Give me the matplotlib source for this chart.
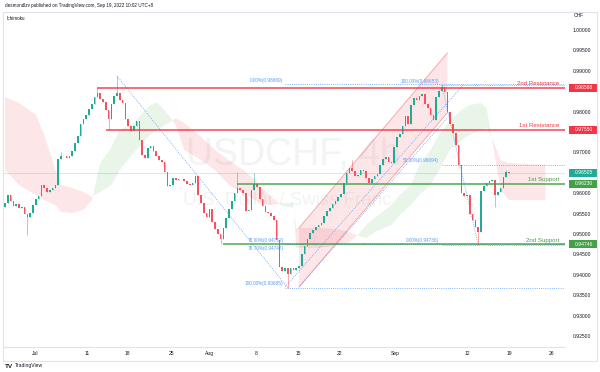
import matplotlib.pyplot as plt
import matplotlib as mpl
import matplotlib.transforms as mtrans
from matplotlib.patches import Rectangle, Polygon
import numpy as np

mpl.rcParams['font.family'] = ['Liberation Sans', 'DejaVu Sans']

# ---- data (USDCHF 4h) ----
first_open = 0.9566
closes = [
    0.9576, 0.9596, 0.9581, 0.9569, 0.9574, 0.9564, 0.9566, 0.9549, 0.9542, 0.9551,
    0.9571, 0.9586, 0.9593, 0.9620, 0.9613, 0.9603, 0.9608, 0.9613, 0.9620, 0.9684,
    0.9691, 0.9691, 0.9686, 0.9691, 0.9703, 0.9723, 0.9740, 0.9770, 0.9782, 0.9792,
    0.9806, 0.9819, 0.9836, 0.9846, 0.9831, 0.9823, 0.9804, 0.9782, 0.9819, 0.9838,
    0.9846, 0.9828, 0.9821, 0.9782, 0.9765, 0.9752, 0.9765, 0.9777, 0.9730, 0.9694,
    0.9686, 0.9711, 0.9716, 0.9703, 0.9691, 0.9681, 0.9676, 0.9652, 0.9618, 0.9620,
    0.9637, 0.9632, 0.9635, 0.9635, 0.9630, 0.9622, 0.9620, 0.9625, 0.9642, 0.9596,
    0.9576, 0.9551, 0.9542, 0.9561, 0.9529, 0.9512, 0.9500, 0.9488, 0.9515, 0.9539,
    0.9561, 0.9581, 0.9600, 0.9613, 0.9608, 0.9600, 0.9556, 0.9559, 0.9608, 0.9622,
    0.9615, 0.9586, 0.9569, 0.9554, 0.9551, 0.9544, 0.9534, 0.9485, 0.9419, 0.9409,
    0.9417, 0.9402, 0.9417, 0.9412, 0.9417, 0.9422, 0.9451, 0.9471, 0.9488, 0.9502,
    0.9510, 0.9517, 0.9522, 0.9527, 0.9544, 0.9556, 0.9564, 0.9574, 0.9581, 0.9591,
    0.9598, 0.9625, 0.9650, 0.9662, 0.9654, 0.9642, 0.9645, 0.9657, 0.9654, 0.9637,
    0.9625, 0.9635, 0.9642, 0.9647, 0.9669, 0.9684, 0.9689, 0.9676, 0.9674, 0.9713,
    0.9738, 0.9745, 0.9765, 0.9789, 0.9770, 0.9816, 0.9833, 0.9828, 0.9838, 0.9843,
    0.9819, 0.9809, 0.9792, 0.9779, 0.9836, 0.9850, 0.9860, 0.9848, 0.9799, 0.9770,
    0.9747, 0.9718, 0.9669, 0.9600, 0.9593, 0.9596, 0.9549, 0.9534, 0.9517, 0.9505,
    0.9605, 0.9618, 0.9625, 0.9630, 0.9632, 0.9596, 0.9603, 0.9613, 0.9640, 0.9652,
    0.96505]
highs = {20: 0.9700, 33: 0.98588, 40: 0.9887, 83: 0.9652, 89: 0.9650,
         124: 0.9681, 156: 0.98653, 179: 0.9658}
lows = {8: 0.9497, 37: 0.9755, 77: 0.94746, 101: 0.93685, 169: 0.94736, 175: 0.9565}

tick_bars = [10.7, 29.3, 43.6, 59.3, 73.2, 89.6, 104.6, 119.6, 139.3, 165.0, 180.0, 195.0]
tick_labels = ['Jul', '11', '18', '25', 'Aug', '8', '15', '22', 'Sep', '12', '19', '26']
price_ticks = [1.0, 0.995, 0.99, 0.98, 0.97, 0.96, 0.955, 0.95, 0.945, 0.94, 0.935, 0.93, 0.925]

# ichimoku cloud (leading span A / B)
cloud_bars = [0, 5, 11, 14, 18, 20, 24, 28, 31, 34, 38, 41, 46, 51, 54, 56, 59, 61, 64, 70,
              75, 80, 86, 91, 95, 99, 103, 104, 112, 118, 123, 126, 129, 132, 138, 141, 145,
              148, 152, 155, 159, 163, 166, 170, 172, 174, 177, 180, 193]
span_a = [0.9657, 0.9620, 0.9596, 0.9583, 0.9571, 0.9554, 0.9551, 0.9559, 0.9583, 0.9674,
          0.9713, 0.9755, 0.9772, 0.9811, 0.9823, 0.9811, 0.9787, 0.9767, 0.9706, 0.9681,
          0.9657, 0.9620, 0.9596, 0.9576, 0.9571, 0.9576, 0.9576, 0.9466, 0.9466, 0.9471,
          0.9480, 0.9498, 0.9522, 0.9539, 0.9571, 0.9596, 0.9620, 0.9669, 0.9706, 0.9743,
          0.9779, 0.9804, 0.9816, 0.9821, 0.9809, 0.9730, 0.9608, 0.9583, 0.9583]
span_b = [0.9836, 0.9821, 0.9792, 0.9743, 0.9657, 0.9620, 0.9613, 0.9603, 0.9591, 0.9603,
          0.9620, 0.9657, 0.9699, 0.9738, 0.9755, 0.9762, 0.9775, 0.9784, 0.9772, 0.9738,
          0.9706, 0.9681, 0.9652, 0.9620, 0.9591, 0.9569, 0.9564, 0.9515, 0.9515, 0.9512,
          0.9505, 0.9495, 0.9490, 0.9505, 0.9522, 0.9547, 0.9571, 0.9596, 0.9620, 0.9657,
          0.9706, 0.9730, 0.9743, 0.9755, 0.9760, 0.9735, 0.9681, 0.9674, 0.9669]

levels = [0.98588, 0.97550, 0.96230, 0.94746]
level_names = ['2nd Resistance', '1st Resistance', '1st Support', '2nd Support']
level_start = [33, 36, 83, 78]
last_price = 0.96505

fib1_pct = ['0.00%', '78.60%', '78.70%', '100.00%']
fib1_prices = [0.98669, 0.94752, 0.94747, 0.93685]
fib1_bar = 100
fib2_pct = ['100.00%', '50.00%', '0.00%']
fib2_prices = [0.98653, 0.96694, 0.94736]
fib2_bar = 156

channel_bars = [105, 158]
channel_upper = [0.9515, 0.9944]
channel_lower = [0.9370, 0.9797]
inner_a_bars, inner_a = [100, 164], [0.9370, 0.9868]
inner_b_bars, inner_b = [105, 158], [0.9370, 0.9785]

# ---- style ----
UP, DOWN = '#22ab94', '#f7525f'
RED, GREEN, TEAL, BLUE = '#f23645', '#43a047', '#22ab94', '#5b9cf6'
GRID = '#e0e3eb'
TXT = '#131722'

fig = plt.figure(figsize=(6, 3.72), dpi=100)
fig.patch.set_facecolor('white')
ax = fig.add_axes([4 / 600, 25 / 372, 561 / 600, 335 / 372])
ax.set_xlim(-0.36, 200)
ax.set_ylim(0.92230, 1.00441)
px = 1 / 4080  # one pixel in price units

# cloud
a = np.array(span_a)
b = np.array(span_b)
ax.fill_between(cloud_bars, a, b, where=a >= b, interpolate=True, color='#4caf50', alpha=0.12, lw=0, zorder=1)
ax.fill_between(cloud_bars, a, b, where=a < b, interpolate=True, color=RED, alpha=0.12, lw=0, zorder=1)

# watermark
ax.text(0.515, 0.573, 'USDCHF, 4h', transform=ax.transAxes, ha='center', va='center',
        fontsize=27, color='#787b86', alpha=0.09, zorder=0)
ax.text(0.505, 0.436, 'U.S. Dollar / Swiss Franc', transform=ax.transAxes, ha='center', va='center',
        fontsize=13.5, color='#787b86', alpha=0.09, zorder=0)

# rising channel
poly = Polygon([(channel_bars[0], channel_upper[0]), (channel_bars[1], channel_upper[1]),
                (channel_bars[1], channel_lower[1]), (channel_bars[0], channel_lower[0])],
               closed=True, fc=RED, alpha=0.12, lw=0, zorder=1.5)
ax.add_patch(poly)
ax.plot(channel_bars, channel_upper, color=RED, alpha=0.45, lw=0.6, zorder=1.6)
ax.plot(channel_bars, channel_lower, color=RED, alpha=0.45, lw=0.6, zorder=1.6)
dots = (0, (1, 1.6))
ax.plot(inner_a_bars, inner_a, color=BLUE, ls=dots, lw=0.6, zorder=1.7)
ax.plot(inner_b_bars, inner_b, color=BLUE, ls=dots, lw=0.6, zorder=1.7)

# current price line
ax.axhline(last_price, color=TEAL, alpha=0.2, lw=0.8, zorder=1.2)

# candles
n = len(closes)
xs = np.arange(n)
opens = [first_open] + closes[:-1]
hi = [max(opens[i], closes[i], highs.get(i, 0)) for i in range(n)]
lo = [min(opens[i], closes[i], lows.get(i, 2)) for i in range(n)]
cols = [UP if closes[i] >= opens[i] else DOWN for i in range(n)]
ax.vlines(xs, lo, hi, colors=cols, lw=0.5, alpha=0.7, zorder=3)
ax.bar(xs, np.array(closes) - np.array(opens), bottom=opens, width=0.62, color=cols, lw=0, zorder=3.1)

# fib diagonals
ax.plot([40, 101], [highs[40], lows[101]], color=BLUE, ls=dots, lw=0.6, zorder=2)
ax.plot([156, 169], [highs[156], lows[169]], color=BLUE, ls=dots, lw=0.6, zorder=2)

# fib levels
for i, (pct, p) in enumerate(zip(fib1_pct, fib1_prices)):
    ax.hlines(p, fib1_bar, 200, color=BLUE, ls=dots, lw=0.6, zorder=2)
    below = pct == '78.70%'
    ax.annotate(f'{pct}({p:.5f})', (fib1_bar, p), xytext=(-1, -1 if below else 1),
                textcoords='offset points', ha='right', va='top' if below else 'bottom',
                fontsize=3.4, color=BLUE, zorder=6)
for pct, p in zip(fib2_pct, fib2_prices):
    ax.hlines(p, fib2_bar, 200, color=BLUE, ls=dots, lw=0.6, zorder=2)
    ax.annotate(f'{pct}({p:.5f})', (fib2_bar, p), xytext=(-2, 1),
                textcoords='offset points', ha='right', va='bottom',
                fontsize=3.4, color=BLUE, zorder=6)

# support / resistance
for p, name, s in zip(levels, level_names, level_start):
    c = RED if 'Resistance' in name else GREEN
    ax.hlines(p, s, 200, color=c, lw=1.2, alpha=0.85, zorder=4)
    ax.annotate(name, (198, p), xytext=(0, 1.2), textcoords='offset points',
                ha='right', va='bottom', fontsize=4.4, color=c, zorder=6)

# axes look
for sp in ['top', 'left', 'right']:
    ax.spines[sp].set_visible(False)
ax.spines['bottom'].set_color(GRID)
ax.spines['bottom'].set_linewidth(0.8)
ax.yaxis.tick_right()
ax.set_yticks(price_ticks)
ax.set_yticklabels([f'{t:.5f}' for t in price_ticks])
ax.tick_params(axis='y', length=0, pad=5.8, labelsize=3.6, labelcolor=TXT)
ax.set_xticks(tick_bars)
ax.set_xticklabels(tick_labels)
ax.tick_params(axis='x', length=0, pad=3.2, labelsize=3.6, labelcolor=TXT)

# price boxes on the scale
trans = mtrans.blended_transform_factory(ax.transAxes, ax.transData)
box_prices = [levels[0], levels[1], last_price, levels[2], levels[3]]
box_colors = [RED, RED, TEAL, GREEN, GREEN]
for p, c in zip(box_prices, box_colors):
    ax.add_patch(Rectangle((1 + 4 / 561, p - 4 * px), 28 / 561, 8 * px, transform=trans,
                           fc=c, ec='none', clip_on=False, zorder=7))
    ax.text(1 + 9.5 / 561, p, f'{p:.5f}', transform=trans, ha='left', va='center',
            fontsize=3.6, color='white', zorder=8, clip_on=False)
ax.text(1 + 9 / 561, 1.00441 - 4 * px, 'CHF', transform=trans, ha='left', va='center',
        fontsize=3.6, color=TXT)

# frame, header, footer
fig.patches.append(Rectangle((3 / 600, 1 - 361 / 372), 594 / 600, 349 / 372, transform=fig.transFigure,
                             fill=False, ec=GRID, lw=0.8))
fig.text(5 / 600, 1 - 5 / 372, 'desmondlzv published on TradingView.com, Sep 19, 2022 10:02 UTC+8',
         fontsize=3.3, color=TXT, va='center')
fig.text(7 / 600, 1 - 18 / 372, 'Ichimoku', fontsize=3.3, color=TXT, va='center')
fig.text(5 / 600, 1 - 366 / 372, 'TV', fontsize=4.6, color=TXT, va='center', weight='bold')
fig.text(15 / 600, 1 - 366 / 372, 'TradingView', fontsize=3.6, color=TXT, va='center')

fig.savefig('out.png', dpi=100)
